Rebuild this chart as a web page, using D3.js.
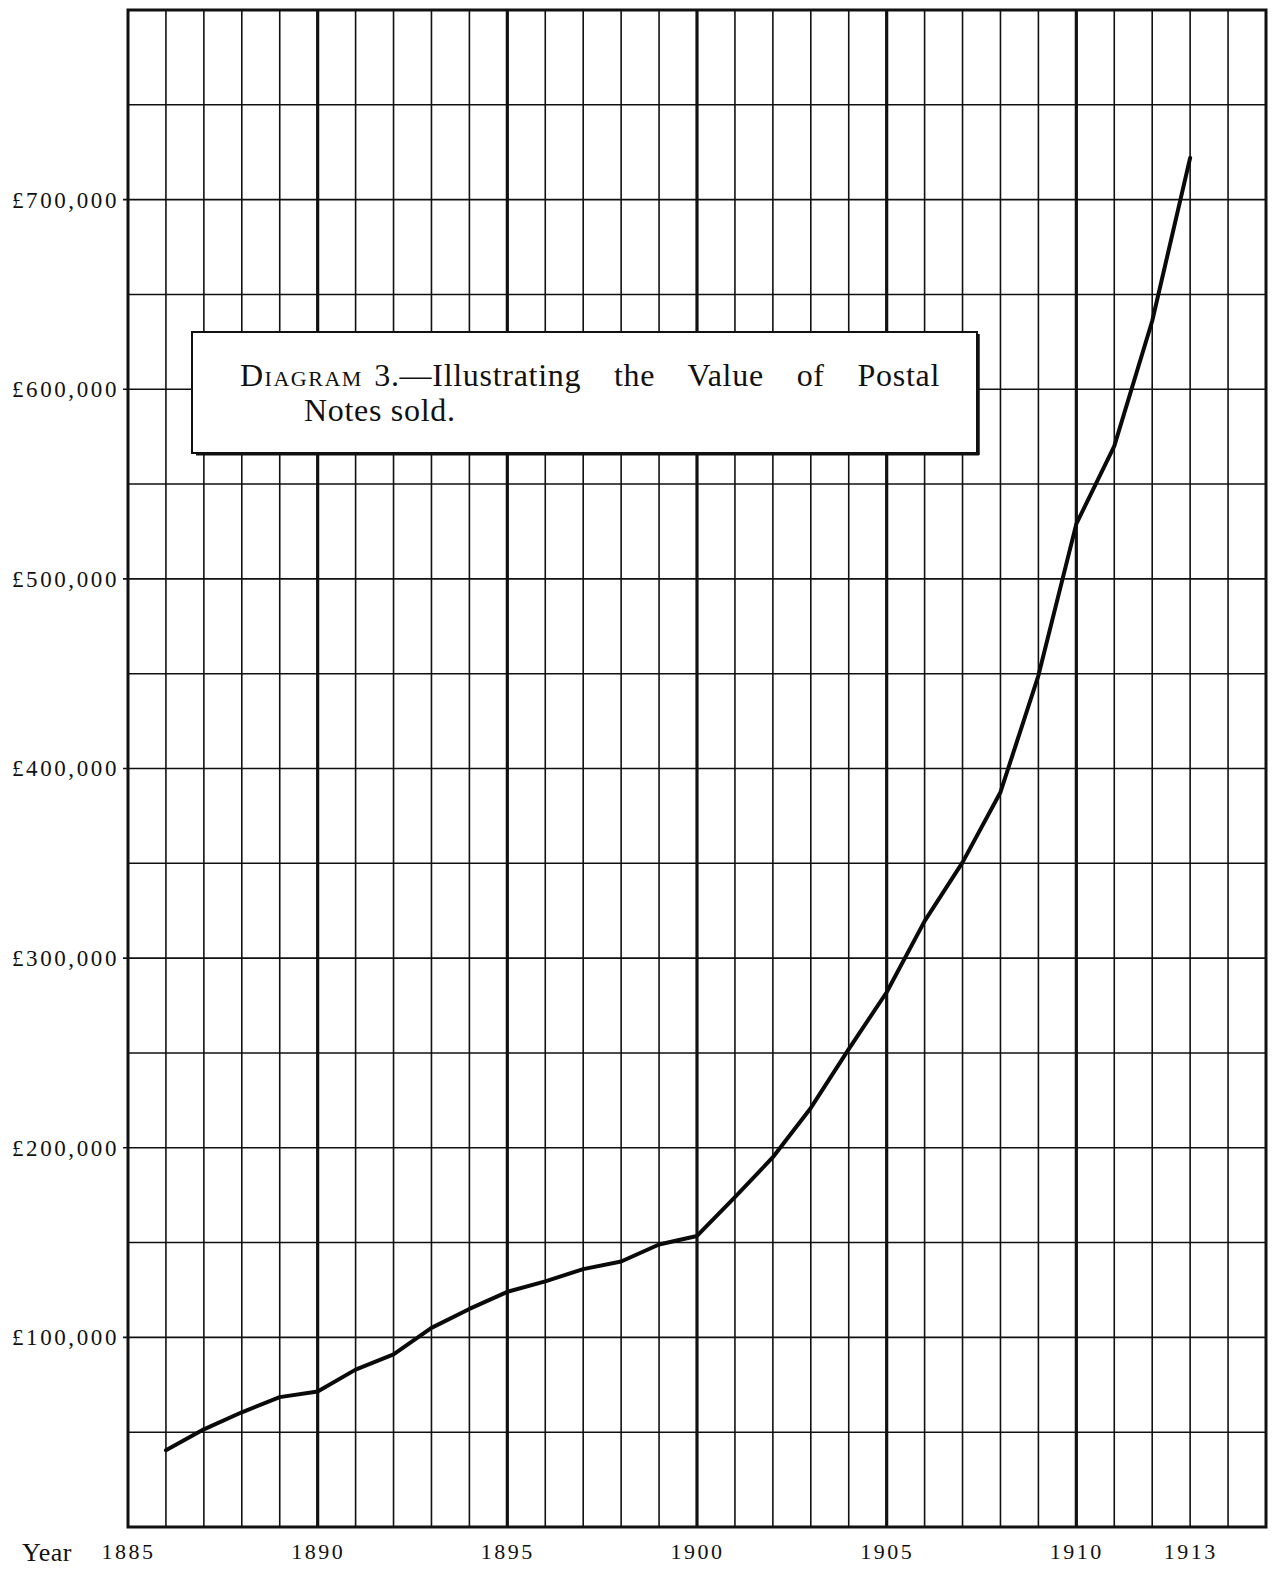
<!DOCTYPE html>
<html><head><meta charset="utf-8">
<script src="https://cdn.jsdelivr.net/npm/d3@7"></script>
<style>
body{margin:0;background:#fff}
svg{display:block}
svg text{font-family:"Liberation Serif","Times New Roman",serif !important;fill:#111}
</style>
</head><body>
<script>
// ---- data ----
const years = [1886,1887,1888,1889,1890,1891,1892,1893,1894,1895,1896,1897,1898,1899,1900,
               1901,1902,1903,1904,1905,1906,1907,1908,1909,1910,1911,1912,1913];
const values = [40500,51500,60500,68500,71500,83000,91000,105000,115000,124000,129500,136000,140000,149000,153500,
                174000,195000,221000,252000,282000,319500,350500,387500,449000,529000,570000,636000,722000];
const xTickLabels = [1885,1890,1895,1900,1905,1910,1913];
const yTickLabels = [100000,200000,300000,400000,500000,600000,700000];
const heavyYears = [1890,1895,1900,1905,1910];
const titleLine1 = ["Diagram", "\u20043.—Illustrating the Value of Postal"];
const titleLine2 = "Notes sold.";

// ---- layout ----
const W = 1277, H = 1569;
const x = d3.scaleLinear().domain([1885,1915]).range([128,1266]);
const y = d3.scaleLinear().domain([0,800000]).range([1527,10]);

const svg = d3.select("body").append("svg").attr("width",W).attr("height",H)
  .attr("font-family","Liberation Serif, serif");

// grid: vertical lines every year
const gridYears = d3.range(1886,1915);
svg.append("g").selectAll("line").data(gridYears).join("line")
  .attr("x1",d=>x(d)).attr("x2",d=>x(d))
  .attr("y1",y(800000)).attr("y2",y(0))
  .attr("stroke","#111")
  .attr("stroke-width",d=>heavyYears.includes(d)?3.2:1.6);

// horizontal lines every 50,000
const gridVals = d3.range(50000,800000,50000);
svg.append("g").selectAll("line").data(gridVals).join("line")
  .attr("x1",d=> d%100000===0 ? x(1885)-5 : x(1885)).attr("x2",x(1915))
  .attr("y1",d=>y(d)).attr("y2",d=>y(d))
  .attr("stroke","#111").attr("stroke-width",1.6);

// border
svg.append("rect")
  .attr("x",x(1885)).attr("y",y(800000))
  .attr("width",x(1915)-x(1885)).attr("height",y(0)-y(800000))
  .attr("fill","none").attr("stroke","#111").attr("stroke-width",3);

// data line
const line = d3.line().x((d,i)=>x(years[i])).y(d=>y(d));
svg.append("path").datum(values)
  .attr("d",line).attr("fill","none")
  .attr("stroke","#0a0a0a").attr("stroke-width",4)
  .attr("stroke-linejoin","round").attr("stroke-linecap","round");

// y axis labels
const yAxis = d3.axisLeft(y).tickValues(yTickLabels).tickSize(0).tickPadding(9)
  .tickFormat(d=>"£"+d3.format(",")(d));
const gy = svg.append("g").attr("transform",`translate(${x(1885)},0)`).call(yAxis);
gy.attr("font-family",null);
gy.select(".domain").remove();
gy.selectAll("text").style("font-size","23px").style("letter-spacing","2.6px").attr("fill","#111");

// x axis labels
const xAxis = d3.axisBottom(x).tickValues(xTickLabels).tickSize(0).tickPadding(0)
  .tickFormat(d=>String(d));
const gx = svg.append("g").attr("transform",`translate(0,${y(0)+16})`).call(xAxis);
gx.attr("font-family",null);
gx.select(".domain").remove();
gx.selectAll("text").style("font-size","22px").style("letter-spacing","2.5px").attr("fill","#111");

svg.append("text").attr("x",22).attr("y",1561)
  .style("font-size","26px").style("letter-spacing","0.5px").text("Year");

// title box
const bx = 192, by = 332, bw = 785, bh = 121;
svg.append("rect").attr("x",bx).attr("y",by).attr("width",bw).attr("height",bh)
  .attr("fill","#fff").attr("stroke","#111").attr("stroke-width",2);
svg.append("line").attr("x1",bx+bw+1).attr("x2",bx+bw+1).attr("y1",by+2).attr("y2",by+bh+2)
  .attr("stroke","#111").attr("stroke-width",3.5);
svg.append("line").attr("x1",bx+4).attr("x2",bx+bw+2).attr("y1",by+bh+1).attr("y2",by+bh+1)
  .attr("stroke","#111").attr("stroke-width",3);

const t1 = svg.append("text").attr("x",240).attr("y",386).style("font-size","32px");
t1.append("tspan").style("font-variant","small-caps").style("letter-spacing","1.5px").text(titleLine1[0]);
t1.append("tspan").style("letter-spacing","0.7px").text(titleLine1[1]);
// justify the first line by widening the word gaps
const targetW = 700;
const natural = t1.node().getComputedTextLength();
const gaps = (titleLine1.join("").match(/ /g) || []).length;
t1.style("word-spacing", Math.max(0,(targetW - natural)/gaps) + "px");

svg.append("text").attr("x",304).attr("y",421).style("font-size","32px")
  .style("letter-spacing","0.7px").text(titleLine2);
</script>
</body></html>
